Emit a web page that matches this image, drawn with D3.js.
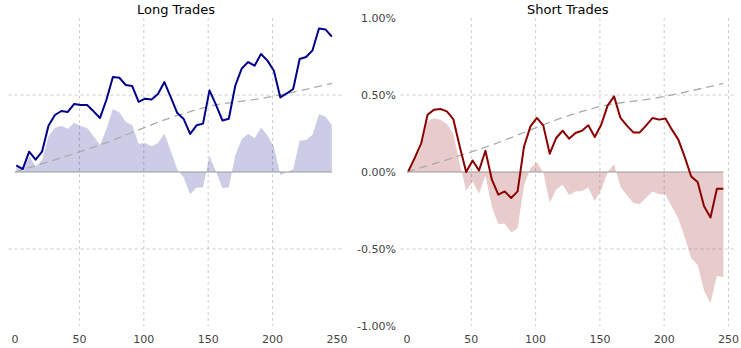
<!DOCTYPE html>
<html>
<head>
<meta charset="utf-8">
<script src="https://cdn.jsdelivr.net/npm/d3@7"></script>
<style>
  html, body { margin: 0; padding: 0; background: #fff; }
  svg { display: block; font-family: "DejaVu Sans", sans-serif; }
</style>
</head>
<body>
<svg id="chart" width="741" height="348"></svg>
<script>
// ---- data (values in %) ----
const steps = [1,6,11,16,21,26,31,36,41,46,51,56,61,66,71,76,81,86,91,96,101,106,111,116,121,126,131,136,141,146,151,156,161,166,171,176,181,186,191,196,201,206,211,216,221,226,231,236,241,246];

const longCum = [0.043,0.019,0.132,0.080,0.132,0.301,0.370,0.396,0.390,0.442,0.435,0.435,0.394,0.351,0.469,0.617,0.612,0.565,0.558,0.455,0.476,0.471,0.506,0.584,0.484,0.383,0.344,0.247,0.303,0.314,0.530,0.437,0.335,0.346,0.560,0.671,0.714,0.690,0.766,0.723,0.658,0.484,0.510,0.539,0.734,0.747,0.790,0.932,0.926,0.879];

const longExcess = [0.040,0.003,0.103,0.037,0.076,0.232,0.288,0.300,0.281,0.320,0.299,0.286,0.232,0.175,0.277,0.409,0.388,0.325,0.303,0.184,0.189,0.168,0.188,0.250,0.134,0.017,-0.035,-0.144,-0.100,-0.101,0.104,0.004,-0.104,-0.100,0.108,0.213,0.249,0.219,0.289,0.238,0.164,-0.019,-0.002,0.018,0.204,0.208,0.242,0.375,0.360,0.304];

const shortCum = [0.004,0.091,0.184,0.372,0.405,0.409,0.394,0.344,0.166,0.000,0.075,0.010,0.138,-0.050,-0.147,-0.126,-0.169,-0.126,0.166,0.296,0.351,0.301,0.119,0.221,0.268,0.216,0.253,0.268,0.303,0.227,0.307,0.431,0.491,0.351,0.301,0.257,0.257,0.303,0.351,0.340,0.348,0.275,0.210,0.097,-0.029,-0.065,-0.223,-0.295,-0.108,-0.108];

const shortExcess = [0.001,0.075,0.155,0.329,0.349,0.340,0.312,0.248,0.057,-0.122,-0.061,-0.139,-0.024,-0.226,-0.339,-0.334,-0.393,-0.366,-0.089,0.025,0.064,-0.002,-0.199,-0.113,-0.082,-0.150,-0.126,-0.123,-0.100,-0.188,-0.119,-0.002,0.052,-0.095,-0.151,-0.201,-0.208,-0.168,-0.126,-0.145,-0.146,-0.228,-0.302,-0.424,-0.559,-0.604,-0.771,-0.852,-0.674,-0.683];

const benchX = [0, 64, 128, 150, 193, 246];
const benchV = [0, 0.17, 0.372, 0.425, 0.48, 0.575];

const xTicks = [0, 50, 100, 150, 200, 250];
const yTicks = [1.0, 0.5, 0.0, -0.5, -1.0];
const yTickLabels = ["1.00%", "0.50%", "0.00%", "-0.50%", "-1.00%"];

// ---- layout ----
const svg = d3.select("#chart");
const yScale = d3.scaleLinear().domain([-1, 1]).range([326, 18]);

const panels = [
  { title: "Long Trades", x0: 15, x1: 337, cum: longCum, exc: longExcess,
    line: "#00008b", fill: "rgba(0,0,128,0.2)", vgrid: [50,100,150,200], yLabels: false },
  { title: "Short Trades", x0: 407, x1: 728.5, cum: shortCum, exc: shortExcess,
    line: "#8b0000", fill: "rgba(139,0,0,0.2)", vgrid: [50,100,150,200,250], yLabels: true }
];

panels.forEach(p => {
  const x = d3.scaleLinear().domain([0, 250]).range([p.x0, p.x1]);
  const g = svg.append("g");

  // grid
  g.selectAll("line.vg").data(p.vgrid).enter().append("line")
    .attr("x1", d => x(d)).attr("x2", d => x(d))
    .attr("y1", yScale(1)).attr("y2", yScale(-1))
    .attr("stroke", "#cccccc").attr("stroke-width", 1).attr("stroke-dasharray", "3,3");
  g.selectAll("line.hg").data([0.5, -0.5]).enter().append("line")
    .attr("x1", x(-5)).attr("x2", x(254))
    .attr("y1", d => yScale(d)).attr("y2", d => yScale(d))
    .attr("stroke", "#cccccc").attr("stroke-width", 1).attr("stroke-dasharray", "3,3");

  // excess area
  const area = d3.area()
    .x((d, i) => x(steps[i]))
    .y0(yScale(0))
    .y1(d => yScale(d));
  g.append("path").datum(p.exc).attr("d", area).attr("fill", p.fill);

  // zero line
  g.append("line")
    .attr("x1", x(0)).attr("x2", x(246))
    .attr("y1", yScale(0)).attr("y2", yScale(0))
    .attr("stroke", "#999").attr("stroke-width", 1.2);

  // benchmark dashed
  const bline = d3.line().curve(d3.curveMonotoneX)
    .x((d, i) => x(benchX[i])).y(d => yScale(d));
  g.append("path").datum(benchV).attr("d", bline)
    .attr("fill", "none").attr("stroke", "#aaa").attr("stroke-width", 1.3)
    .attr("stroke-dasharray", "8,5");

  // cumulative line
  const line = d3.line().x((d, i) => x(steps[i])).y(d => yScale(d));
  g.append("path").datum(p.cum).attr("d", line)
    .attr("fill", "none").attr("stroke", p.line).attr("stroke-width", 2)
    .attr("stroke-linejoin", "round");

  // title
  g.append("text").attr("x", (p.x0 + p.x1) / 2).attr("y", 14)
    .attr("text-anchor", "middle").attr("font-size", 13).attr("fill", "#000")
    .text(p.title);

  // x tick labels
  g.selectAll("text.xt").data(xTicks).enter().append("text")
    .attr("x", d => x(d)).attr("y", 343)
    .attr("text-anchor", "middle").attr("font-size", 11).attr("fill", "#444")
    .text(d => d);

  if (p.yLabels) {
    g.selectAll("text.yt").data(yTicks).enter().append("text")
      .attr("x", 396).attr("y", d => yScale(d) + 4)
      .attr("text-anchor", "end").attr("font-size", 11).attr("fill", "#444")
      .text((d, i) => yTickLabels[i]);
  }
});
</script>
</body>
</html>
